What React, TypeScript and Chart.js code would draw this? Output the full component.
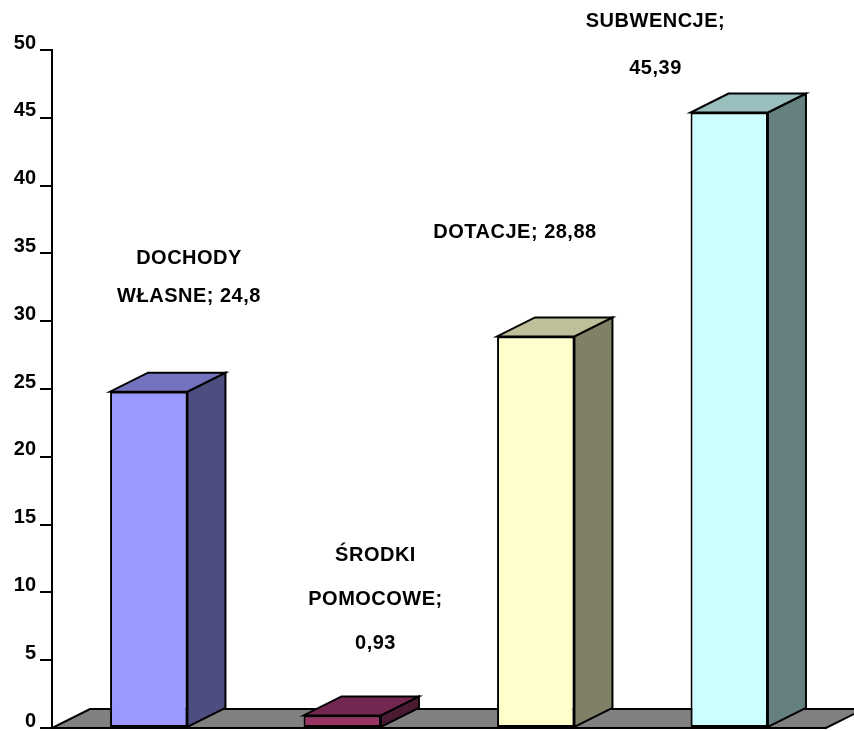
import React, { useEffect, useRef } from "react";
import { Chart, registerables } from "chart.js";

Chart.register(...registerables);

// ---- data ----
const categories = ["DOCHODY WŁASNE", "ŚRODKI POMOCOWE", "DOTACJE", "SUBWENCJE"];
const values = [24.8, 0.93, 28.88, 45.39];
const nameLines = [["DOCHODY", "WŁASNE;"], ["ŚRODKI", "POMOCOWE;"], ["DOTACJE;"], ["SUBWENCJE;"]];
const valueOnOwnLine = [false, true, false, true];
const yMin = 0;
const yMax = 50;
const yStep = 5;

// ---- styles / layout ----
const frontColors = ["#9999FF", "#993366", "#FFFFCC", "#CCFFFF"];
const topColors = ["#7373BF", "#732650", "#BFBF99", "#99BFBF"];
const sideColors = ["#4D4D80", "#4D1A33", "#808066", "#668080"];
const floorColor = "#808080";
const DEPTH_X = 38;
const DEPTH_Y = -19;
// label offsets relative to bar top-centre (px): [dx, dy of last line]
const labelOffsets = [
  [40, -95],
  [33, -72],
  [-21, -104],
  [-74, -44],
];
const labelLineHeights = [38, 44, 44, 47];
const FONT_FAMILY = '"Liberation Sans", Arial, sans-serif';

function fmt(v: number) {
  return String(v).replace(".", ",");
}

function buildLines(i: number): string[] {
  const lines = nameLines[i].slice();
  if (valueOnOwnLine[i]) lines.push(fmt(values[i]));
  else lines[lines.length - 1] = lines[lines.length - 1] + " " + fmt(values[i]);
  return lines;
}

function poly(ctx: CanvasRenderingContext2D, pts: number[][], fill: string) {
  ctx.beginPath();
  ctx.moveTo(pts[0][0], pts[0][1]);
  for (let k = 1; k < pts.length; k++) ctx.lineTo(pts[k][0], pts[k][1]);
  ctx.closePath();
  ctx.fillStyle = fill;
  ctx.fill();
  ctx.stroke();
}

const bar3dPlugin = {
  id: "bar3d",
  beforeDatasetsDraw(chart: any) {
    const ctx: CanvasRenderingContext2D = chart.ctx;
    const { left, right, bottom } = chart.chartArea;
    ctx.save();
    ctx.strokeStyle = "#000";
    ctx.lineWidth = 2;
    ctx.lineJoin = "miter";
    poly(
      ctx,
      [
        [left, bottom],
        [right, bottom],
        [right + DEPTH_X, bottom + DEPTH_Y],
        [left + DEPTH_X, bottom + DEPTH_Y],
      ],
      floorColor
    );
    const meta = chart.getDatasetMeta(0);
    meta.data.forEach((bar: any, i: number) => {
      const { x, y, base, width } = bar.getProps(["x", "y", "base", "width"], true);
      const x1 = x - width / 2;
      const x2 = x + width / 2;
      poly(
        ctx,
        [
          [x2, y],
          [x2 + DEPTH_X, y + DEPTH_Y],
          [x2 + DEPTH_X, base + DEPTH_Y],
          [x2, base],
        ],
        sideColors[i]
      );
      poly(
        ctx,
        [
          [x1, y],
          [x2, y],
          [x2 + DEPTH_X, y + DEPTH_Y],
          [x1 + DEPTH_X, y + DEPTH_Y],
        ],
        topColors[i]
      );
    });
    ctx.restore();
  },
  afterDatasetsDraw(chart: any) {
    const ctx: CanvasRenderingContext2D = chart.ctx;
    const meta = chart.getDatasetMeta(0);
    ctx.save();
    ctx.fillStyle = "#000";
    ctx.font = `bold 20px ${FONT_FAMILY}`;
    (ctx as any).letterSpacing = "0.5px";
    ctx.textAlign = "center";
    ctx.textBaseline = "middle";
    meta.data.forEach((bar: any, i: number) => {
      const { x, y } = bar.getProps(["x", "y"], true);
      const lines = buildLines(i);
      const cx = x + labelOffsets[i][0];
      const lastY = y + labelOffsets[i][1];
      lines.forEach((line, k) => {
        const ly = lastY - (lines.length - 1 - k) * labelLineHeights[i];
        ctx.fillText(line, cx + 0.25, ly);
      });
    });
    ctx.restore();
  },
};

export default function App() {
  const canvasRef = useRef<HTMLCanvasElement | null>(null);

  useEffect(() => {
    if (!canvasRef.current) return;
    const chart = new Chart(canvasRef.current, {
      type: "bar",
      data: {
        labels: categories,
        datasets: [
          {
            data: values,
            backgroundColor: frontColors,
            borderColor: "#000",
            borderWidth: 2,
            borderSkipped: false,
            barPercentage: 0.4,
            categoryPercentage: 1,
          },
        ],
      },
      options: {
        responsive: false,
        animation: false,
        layout: { padding: { left: 0, top: 50, right: 28, bottom: 3 } },
        plugins: {
          legend: { display: false },
          tooltip: { enabled: false },
        },
        scales: {
          x: { display: false },
          y: {
            min: yMin,
            max: yMax,
            afterFit(scale: any) {
              scale.width = 52;
              scale.paddingTop = 0;
              scale.paddingBottom = 0;
            },
            ticks: {
              stepSize: yStep,
              color: "#000",
              padding: 4,
              labelOffset: -7,
              font: { family: FONT_FAMILY, size: 20, weight: "bold" },
            },
            grid: {
              display: true,
              drawOnChartArea: false,
              drawTicks: true,
              tickLength: 12,
              color: "#000",
              lineWidth: 2,
            },
            border: { display: true, color: "#000", width: 2 },
          },
        },
      },
      plugins: [bar3dPlugin],
    } as any);
    return () => chart.destroy();
  }, []);

  return (
    <div style={{ position: "fixed", left: 0, top: 0, width: 854, height: 731, background: "#fff" }}>
      <canvas ref={canvasRef} width={854} height={731} style={{ display: "block" }} />
    </div>
  );
}
